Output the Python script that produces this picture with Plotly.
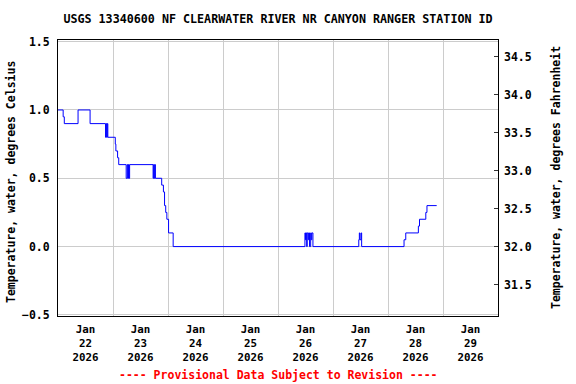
import plotly.graph_objects as go

# ---- data (change points, step series) ----
times = [
    "2026-01-22 00:00", "2026-01-22 02:15", "2026-01-22 02:45", "2026-01-22 08:45",
    "2026-01-22 14:00", "2026-01-22 20:45", "2026-01-22 21:00", "2026-01-22 21:15",
    "2026-01-22 21:30", "2026-01-22 21:45",
    "2026-01-23 01:00", "2026-01-23 01:15", "2026-01-23 02:00", "2026-01-23 02:30",
    "2026-01-23 05:45", "2026-01-23 06:15", "2026-01-23 06:30", "2026-01-23 06:45",
    "2026-01-23 07:00", "2026-01-23 07:15",
    "2026-01-23 17:30", "2026-01-23 17:45", "2026-01-23 18:00", "2026-01-23 18:15",
    "2026-01-23 18:30",
    "2026-01-23 21:15", "2026-01-23 22:00", "2026-01-23 22:30", "2026-01-23 23:00",
    "2026-01-23 23:30", "2026-01-24 00:15", "2026-01-24 02:15",
    "2026-01-26 11:45", "2026-01-26 12:00", "2026-01-26 12:15", "2026-01-26 12:30",
    "2026-01-26 12:45", "2026-01-26 13:15", "2026-01-26 13:30", "2026-01-26 13:45",
    "2026-01-26 14:15", "2026-01-26 14:30", "2026-01-26 14:45", "2026-01-26 15:15",
    "2026-01-27 11:15", "2026-01-27 11:30", "2026-01-27 11:45", "2026-01-27 12:15",
    "2026-01-27 12:30",
    "2026-01-28 07:00", "2026-01-28 07:45", "2026-01-28 13:15", "2026-01-28 13:45",
    "2026-01-28 16:30", "2026-01-28 17:00", "2026-01-28 21:15",
]
temp_c = [
    1.0, 0.95, 0.9, 1.0,
    0.9, 0.8, 0.9, 0.8,
    0.9, 0.8,
    0.75, 0.7, 0.65, 0.6,
    0.5, 0.6, 0.5, 0.6,
    0.5, 0.6,
    0.5, 0.6, 0.5, 0.6,
    0.5,
    0.45, 0.4, 0.3, 0.25,
    0.2, 0.1, 0.0,
    0.1, 0.05, 0.1, 0.0,
    0.1, 0.05, 0.1, 0.0,
    0.1, 0.05, 0.1, 0.0,
    0.05, 0.1, 0.05, 0.1,
    0.0,
    0.05, 0.1, 0.15, 0.2,
    0.25, 0.3, 0.3,
]
temp_f = [v * 1.8 + 32 for v in temp_c]

day_midnights = ["2026-01-22", "2026-01-23", "2026-01-24", "2026-01-25",
                 "2026-01-26", "2026-01-27", "2026-01-28", "2026-01-29", "2026-01-30"]
day_noons = ["2026-01-22 12:00", "2026-01-23 12:00", "2026-01-24 12:00", "2026-01-25 12:00",
             "2026-01-26 12:00", "2026-01-27 12:00", "2026-01-28 12:00", "2026-01-29 12:00"]
day_labels = ["Jan<br>22<br>2026", "Jan<br>23<br>2026", "Jan<br>24<br>2026", "Jan<br>25<br>2026",
              "Jan<br>26<br>2026", "Jan<br>27<br>2026", "Jan<br>28<br>2026", "Jan<br>29<br>2026"]
c_ticks = [-0.5, 0.0, 0.5, 1.0, 1.5]
f_ticks = [31.5, 32.0, 32.5, 33.0, 33.5, 34.0, 34.5]
c_range = [-0.508, 1.512]
f_range = [c * 1.8 + 32 for c in c_range]

FONT = "DejaVu Sans Mono"
fnt = dict(family=FONT, size=11.5, color="black", weight="bold")
xfnt = dict(family=FONT, size=10.8, color="black", weight="bold")

fig = go.Figure()
fig.add_trace(go.Scatter(x=times, y=temp_c, mode="lines", line_shape="hv",
                         line=dict(color="#0000ff", width=1), showlegend=False,
                         xaxis="x", yaxis="y"))
fig.add_trace(go.Scatter(x=times, y=temp_f, mode="lines", line_shape="hv",
                         line=dict(color="rgba(0,0,0,0)", width=0), showlegend=False,
                         hoverinfo="skip", xaxis="x", yaxis="y2"))

fig.update_layout(
    width=576, height=384,
    margin=dict(l=58, r=78, t=40, b=68, autoexpand=False),
    paper_bgcolor="white", plot_bgcolor="white",
    font=fnt,
    title=dict(text="USGS 13340600 NF CLEARWATER RIVER NR CANYON RANGER STATION ID",
               x=0.5, xref="paper", xanchor="center", y=1 - 19 / 384, yref="container",
               yanchor="middle", font=dict(family=FONT, size=11.7, color="black", weight="bold")),
    xaxis=dict(
        type="date", range=["2026-01-22", "2026-01-30"],
        tickmode="array", tickvals=day_noons, ticktext=day_labels,
        showgrid=False, ticks="outside", ticklen=3, tickcolor="rgba(0,0,0,0)",
        showline=True, linecolor="black", linewidth=1, mirror=True,
        tickfont=xfnt, zeroline=False,
        minor=dict(tickmode="array", tickvals=day_midnights, showgrid=True,
                   gridcolor="#cccccc", gridwidth=1, ticks=""),
    ),
    yaxis=dict(
        range=c_range, tickmode="array", tickvals=c_ticks,
        tickformat=".1f", showgrid=True, gridcolor="#cccccc", gridwidth=1,
        ticks="outside", ticklen=5, tickcolor="rgba(0,0,0,0)",
        showline=True, linecolor="black", linewidth=1, mirror=True,
        zeroline=False, tickfont=fnt,
    ),
    yaxis2=dict(
        range=f_range, overlaying="y", side="right", anchor="x",
        tickmode="array", tickvals=f_ticks, tickformat=".1f",
        showgrid=False, zeroline=False, ticks="inside", ticklen=4,
        tickcolor="#333333", ticklabelstandoff=5, tickfont=fnt,
    ),
    annotations=[
        dict(text="Temperature, water, degrees Celsius", textangle=-90,
             xref="paper", yref="paper", x=0, y=0.5, xanchor="center", yanchor="middle",
             xshift=-47, yshift=-4, showarrow=False, font=fnt),
        dict(text="Temperature, water, degrees Fahrenheit", textangle=-90,
             xref="paper", yref="paper", x=1, y=0.5, xanchor="center", yanchor="middle",
             xshift=58, showarrow=False, font=fnt),
        dict(text="---- Provisional Data Subject to Revision ----",
             xref="paper", yref="paper", x=0.5, y=0, xanchor="center", yanchor="middle",
             yshift=-(375 - 316), showarrow=False,
             font=dict(family=FONT, size=11.5, color="red", weight="bold")),
    ],
)

fig.write_html("out.html", config={"displayModeBar": False},
               post_script="document.body.style.margin='0';document.body.style.overflow='hidden';")
